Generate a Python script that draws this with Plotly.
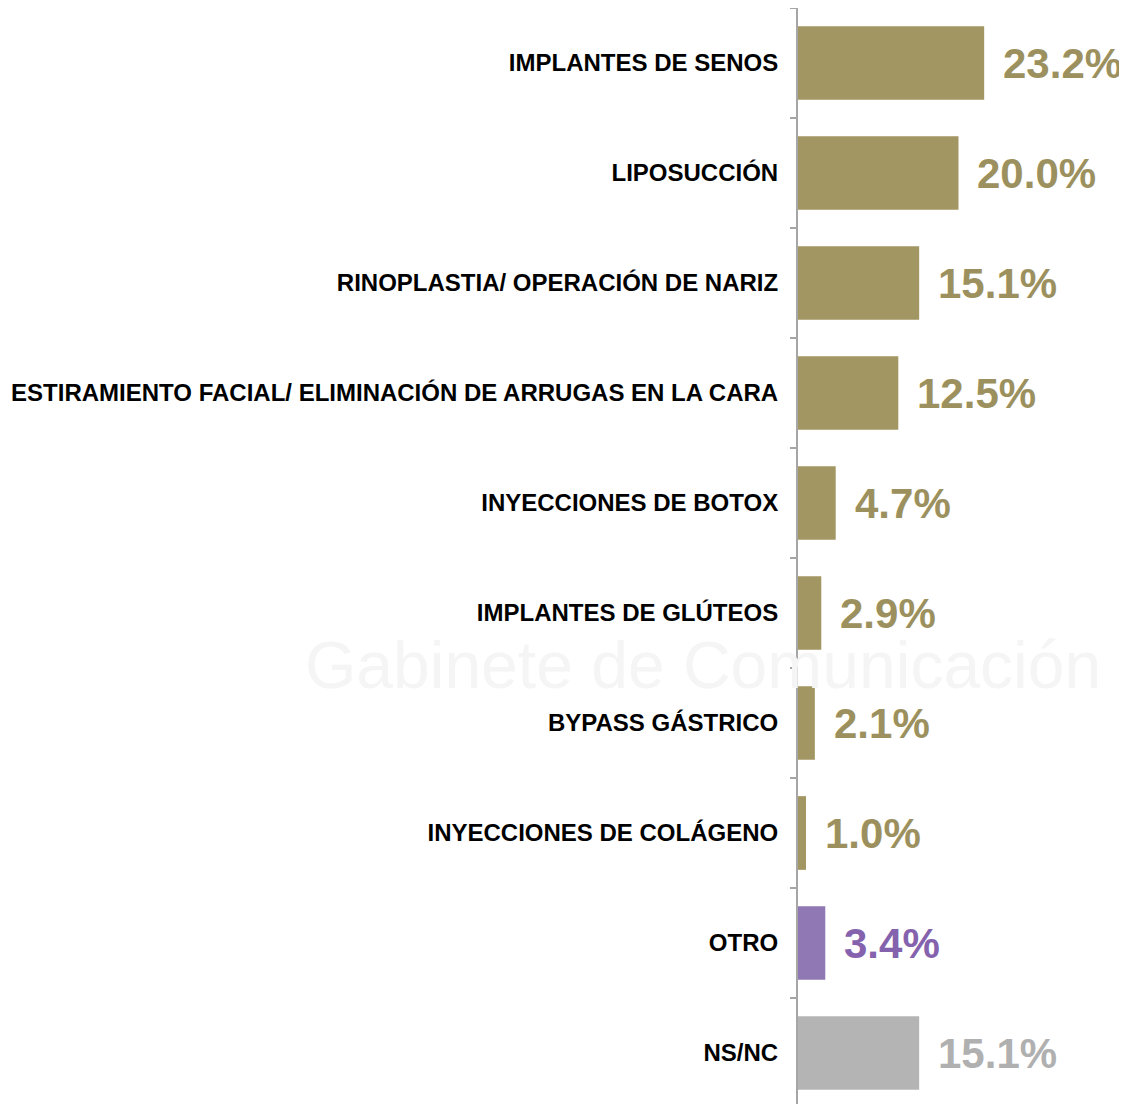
import plotly.graph_objects as go

categories = [
    "IMPLANTES DE SENOS",
    "LIPOSUCCIÓN",
    "RINOPLASTIA/ OPERACIÓN DE NARIZ",
    "ESTIRAMIENTO FACIAL/ ELIMINACIÓN DE ARRUGAS EN LA CARA",
    "INYECCIONES DE BOTOX",
    "IMPLANTES DE GLÚTEOS",
    "BYPASS GÁSTRICO",
    "INYECCIONES DE COLÁGENO",
    "OTRO",
    "NS/NC",
]
values = [23.2, 20.0, 15.1, 12.5, 4.7, 2.9, 2.1, 1.0, 3.4, 15.1]

GOLD = "#a29663"
PURPLE = "#8f78b3"
GREY = "#b4b4b4"
bar_colors = [GOLD] * 8 + [PURPLE, GREY]
text_colors = ["#9c915e"] * 8 + ["#8462ad", "#b0b0b0"]

fig = go.Figure(
    go.Bar(
        x=values,
        y=categories,
        orientation="h",
        marker=dict(color=bar_colors, line=dict(width=0)),
        hoverinfo="x+y",
    )
)

# value labels beside bars
for cat, val, col in zip(categories, values, text_colors):
    fig.add_annotation(
        x=val, y=cat, text=f"{val:.1f}%", showarrow=False,
        xanchor="left", yanchor="middle", xshift=17,
        font=dict(family="Liberation Sans, Arial", size=42, color=col, weight="bold"),
    )

# faint watermark
fig.add_annotation(
    xref="paper", yref="paper", x=-0.29, y=0.403, text="Gabinete de Comunicación",
    showarrow=False, xanchor="center", yanchor="middle",
    font=dict(family="Liberation Sans, Arial", size=66, color="#f5f5f5"),
)

# page body has an 8px margin, so the figure is sized/offset to land on the window
fig.update_layout(
    width=1119, height=1100,
    margin=dict(l=790, r=0, t=0, b=0, autoexpand=False),
    paper_bgcolor="white", plot_bgcolor="rgba(0,0,0,0)",
    bargap=0.33,
    showlegend=False,
    font=dict(family="Liberation Sans, Arial", color="black"),
)
fig.update_xaxes(range=[0, 41], visible=False, fixedrange=True)
fig.update_yaxes(
    autorange="reversed",
    showline=True, linecolor="#a6a6a6", linewidth=2,
    ticks="outside", tickson="boundaries", ticklen=6, tickcolor="#a6a6a6", tickwidth=2,
    ticklabelstandoff=13,
    tickfont=dict(family="Liberation Sans, Arial", size=24, color="black", weight="bold"),
    showgrid=False, zeroline=False, fixedrange=True,
)

fig.write_html("out.html")
